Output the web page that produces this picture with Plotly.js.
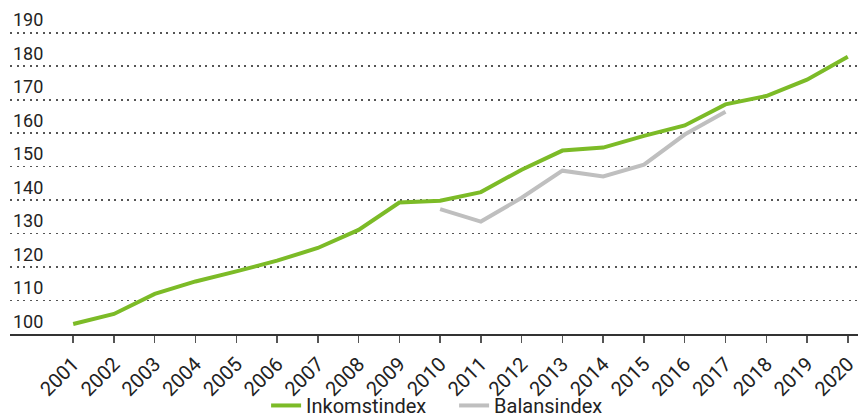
<!DOCTYPE html>
<html>
<head>
<meta charset="utf-8">
<script src="https://cdn.plot.ly/plotly-3.0.1.min.js"></script>
<style>
    html, body { margin: 0; padding: 0; background: #fff; }
    #chart { width: 859px; height: 418px; }
</style>
</head>
<body>
<div id="chart"></div>
<script>
// Chart data
const years = [2001, 2002, 2003, 2004, 2005, 2006, 2007, 2008, 2009, 2010,
               2011, 2012, 2013, 2014, 2015, 2016, 2017, 2018, 2019, 2020];
const yearLabels = years.map(y => String(y));

const inkomstindex = [103.0, 106.0, 112.0, 115.7, 118.7, 121.9, 125.7, 131.1, 139.3, 139.8,
                      142.4, 149.1, 154.8, 155.7, 159.2, 162.3, 168.6, 171.1, 176.0, 182.8];

const balansYears = [2010, 2011, 2012, 2013, 2014, 2015, 2016, 2017];
const balansindex = [137.3, 133.6, 140.7, 148.8, 147.1, 150.6, 159.6, 166.4];

const yTicks = [100, 110, 120, 130, 140, 150, 160, 170, 180, 190];

// Series styles
const GREEN = '#7cbb27';
const GREY = '#bfbfbf';

function renderChart() {
    const traces = [
        {
            x: years,
            y: inkomstindex,
            name: 'Inkomstindex',
            type: 'scatter',
            mode: 'lines',
            line: { color: GREEN, width: 4 }
        },
        {
            x: balansYears,
            y: balansindex,
            name: 'Balansindex',
            type: 'scatter',
            mode: 'lines',
            line: { color: GREY, width: 4 }
        }
    ];

    const layout = {
        width: 859,
        height: 418,
        paper_bgcolor: '#fff',
        plot_bgcolor: '#fff',
        font: { family: 'Roboto, sans-serif', size: 18, color: '#222' },
        margin: { t: 6, r: 1, b: 84, l: 10 },
        showlegend: true,
        legend: {
            orientation: 'h',
            x: 0.302,
            xanchor: 'left',
            yref: 'container',
            y: 0.03,
            yanchor: 'middle',
            itemwidth: 30,
            entrywidth: 143,
            bgcolor: 'rgba(0,0,0,0)',
            font: { size: 20, color: '#222' }
        },
        xaxis: {
            range: [1999.45, 2020.25],
            tickvals: years,
            ticktext: yearLabels,
            tickangle: -45,
            tickfont: { size: 20, color: '#222' },
            ticklabelstandoff: 2,
            ticks: 'outside',
            ticklen: 7,
            tickcolor: '#555',
            tickwidth: 1.5,
            showline: true,
            linecolor: '#333',
            linewidth: 1.5,
            showgrid: false,
            zeroline: false,
            fixedrange: true
        },
        yaxis: {
            range: [100, 198],
            tickvals: yTicks,
            ticklabelposition: 'inside top',
            tickfont: { size: 18, color: '#222' },
            ticks: '',
            showgrid: true,
            gridcolor: '#555',
            gridwidth: 1.6,
            griddash: '2px,4.5px',
            showline: false,
            zeroline: false,
            fixedrange: true
        }
    };

    Plotly.newPlot('chart', traces, layout, { displayModeBar: false, staticPlot: true });
}

document.addEventListener('DOMContentLoaded', renderChart);
</script>
</body>
</html>
